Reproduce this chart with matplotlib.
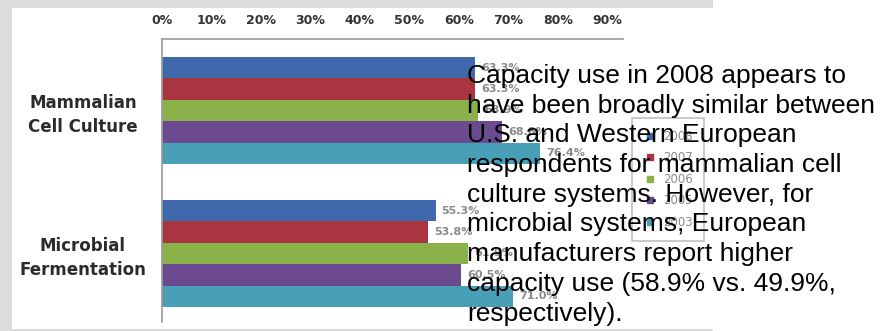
import matplotlib
matplotlib.use("Agg")
import matplotlib.pyplot as plt
from matplotlib.patches import Rectangle
from matplotlib.lines import Line2D
import numpy as np

categories = ["Mammalian\nCell Culture", "Microbial\nFermentation"]
years = ["2008", "2007", "2006", "2005", "2003"]
values = {
    "2008": [63.3, 55.3],
    "2007": [63.3, 53.8],
    "2006": [63.9, 61.9],
    "2005": [68.8, 60.5],
    "2003": [76.4, 71.0],
}
colors = ["#4069ad", "#a8353f", "#8ab14a", "#6b4a8f", "#4a9fb8"]
xticks = [0, 10, 20, 30, 40, 50, 60, 70, 80, 90]

note = ("Capacity use in 2008 appears to\n"
        "have been broadly similar between\n"
        "U.S. and Western European\n"
        "respondents for mammalian cell\n"
        "culture systems. However, for\n"
        "microbial systems, European\n"
        "manufacturers report higher\n"
        "capacity use (58.9% vs. 49.9%,\n"
        "respectively).")

W, H = 895, 331
fig = plt.figure(figsize=(W / 100, H / 100), dpi=100)
fig.patch.set_facecolor("white")

# gray frame around the pasted chart
gray = "#dcdcdc"
for x0, y0, w, h in [(0, 0, 713, 8), (0, 0, 12, 331), (0, 329, 713, 2)]:
    fig.patches.append(Rectangle((x0 / W, 1 - (y0 + h) / H), w / W, h / H,
                                 transform=fig.transFigure, facecolor=gray,
                                 edgecolor="none", zorder=0))

ax = fig.add_axes([162 / W, 9 / H, (623 - 162) / W, 283 / H])
ax.set_facecolor("white")

bar_h = 0.15
ypos = np.arange(len(categories))
for i, yr in enumerate(years):
    off = (i - 2) * bar_h
    ax.barh(ypos + off, values[yr], height=bar_h, color=colors[i], label=yr)
    for y, v in zip(ypos, values[yr]):
        ax.text(v + 1.2, y + off, f"{v:.1f}%", va="center", ha="left",
                fontsize=8, color="#8a8a8a", fontweight="bold")

ax.set_xlim(0, 93.2)
ax.set_ylim(1.48, -0.5)
ax.xaxis.tick_top()
ax.set_xticks(xticks)
ax.set_xticklabels([f"{t}%" for t in xticks], fontsize=9, color="#333333",
                   fontweight="bold")
ax.set_yticks(ypos)
ax.set_yticklabels(categories, fontsize=12, fontweight="bold", color="#2b2b2b",
                   ha="center", multialignment="center", linespacing=1.4)
ax.tick_params(axis="x", length=0, pad=9)
ax.tick_params(axis="y", length=0, pad=57)
for s in ["right", "bottom"]:
    ax.spines[s].set_visible(False)
for s in ["top", "left"]:
    ax.spines[s].set_color("#9a9a9a")
    ax.spines[s].set_linewidth(1.2)

handles = [Line2D([], [], marker="s", linestyle="none", markersize=5,
                  color=c) for c in colors]
leg = fig.legend(handles, years, loc="upper left",
                 bbox_to_anchor=(632 / W, 1 - 118 / H), borderaxespad=0,
                 fontsize=8.5, labelcolor="#8a8a8a", frameon=True,
                 fancybox=False, edgecolor="#b0b0b0", facecolor="none",
                 framealpha=None, labelspacing=0.72, handletextpad=0.6,
                 borderpad=1.0, handlelength=1.0)
leg.get_frame().set_linewidth(1.2)
leg.set_zorder(2)

fig.text(467 / W, 1 - 64 / H, note, fontsize=19, family="Liberation Sans",
         color="black", va="top", ha="left", linespacing=1.3, zorder=10)

fig.savefig("out.png", dpi=100)
